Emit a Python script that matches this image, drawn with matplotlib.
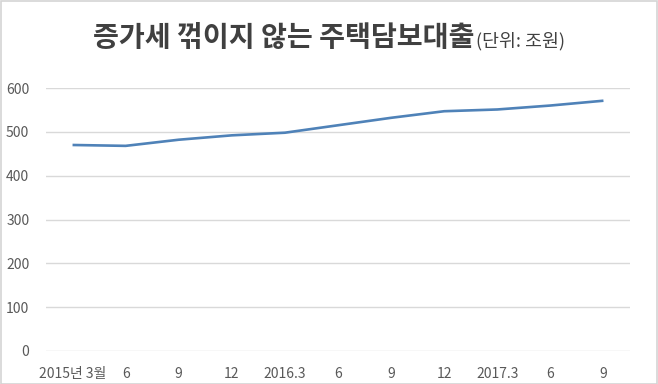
import matplotlib
matplotlib.use('Agg')
import matplotlib.pyplot as plt
from matplotlib.patches import Rectangle

plt.rcParams['font.family'] = ['Noto Sans CJK KR', 'DejaVu Sans']

# data (조원)
months = ['2015년 3월', '6', '9', '12', '2016.3', '6', '9', '12', '2017.3', '6', '9']
loans = [470, 468, 482, 492, 498, 515, 532, 547, 551, 560, 571]
yticks = [0, 100, 200, 300, 400, 500, 600]

title = '증가세 꺾이지 않는 주택담보대출'
unit = '(단위: 조원)'


def main():
    fig = plt.figure(figsize=(6.58, 3.84), dpi=100)
    fig.patch.set_facecolor('white')
    # thin frame round the picture
    fig.add_artist(Rectangle((0.001, 0.001), 0.997, 0.996, transform=fig.transFigure,
                             fill=False, edgecolor='#d4d4d4', linewidth=1.2))

    ax = fig.add_axes([46 / 658, 1 - 351 / 384, 584 / 658, 263 / 384])
    x = list(range(len(months)))
    ax.plot(x, loans, color='#4f82b8', linewidth=1.9, solid_joinstyle='round',
            solid_capstyle='butt', clip_on=False, zorder=3)

    ax.set_xlim(-0.5, len(months) - 0.5)
    ax.set_ylim(0, 600)
    ax.set_yticks(yticks)
    ax.set_xticks(x)
    ax.set_xticklabels(months)
    ax.grid(axis='y', color='#d9d9d9', linewidth=1.0)
    ax.set_axisbelow(True)
    for s in ax.spines.values():
        s.set_visible(False)
    ax.tick_params(axis='y', length=0, pad=12, labelsize=10, labelcolor='#595959')
    ax.tick_params(axis='x', length=0, pad=11.5, labelsize=10, labelcolor='#595959')

    t = fig.text(93 / 658, 1 - 46 / 384, title, fontsize=20.3, fontweight='bold',
                 color='#404040', ha='left', va='baseline')
    r = fig.canvas.get_renderer()
    bb = t.get_window_extent(r)
    fig.text(bb.x1 / 658 + 0.002, 1 - 46 / 384, unit, fontsize=13.2, color='#404040',
             ha='left', va='baseline', fontweight='light')

    fig.savefig('out.png', dpi=100)


if __name__ == '__main__':
    main()
